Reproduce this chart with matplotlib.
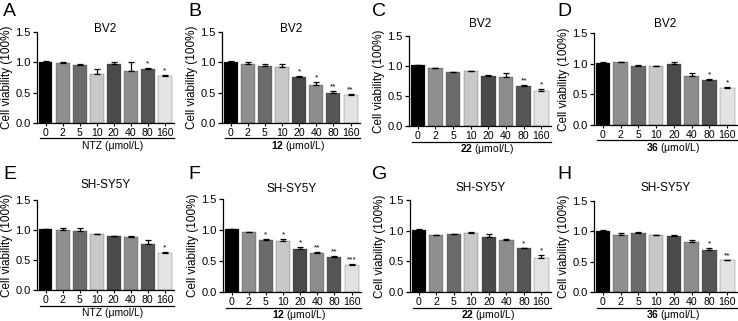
import matplotlib
matplotlib.use("Agg")
import matplotlib.pyplot as plt
import numpy as np

plt.rcParams['font.family'] = ['Liberation Sans', 'DejaVu Sans']
plt.rcParams['mathtext.fontset'] = 'custom'
plt.rcParams['mathtext.rm'] = 'Liberation Sans'
plt.rcParams['mathtext.bf'] = 'Liberation Sans:bold'

concs = ["0", "2", "5", "10", "20", "40", "80", "160"]
bar_colors = ["#000000", "#8f8f8f", "#6b6b6b", "#c8c8c8", "#4a4a4a", "#8c8c8c", "#555555", "#e3e3e3"]

letters = ["A", "B", "C", "D", "E", "F", "G", "H"]
titles = ["BV2"] * 4 + ["SH-SY5Y"] * 4
compounds = ["NTZ", "12", "22", "36", "NTZ", "12", "22", "36"]

vals_A = [1.01, 0.99, 0.95, 0.81, 0.97, 0.86, 0.89, 0.78]
err_A = [0.01, 0.01, 0.03, 0.08, 0.03, 0.15, 0.01, 0.01]
sig_A = ["", "", "", "", "", "", "*", "*"]

vals_B = [1.01, 0.97, 0.94, 0.93, 0.76, 0.63, 0.50, 0.46]
err_B = [0.01, 0.03, 0.04, 0.04, 0.01, 0.04, 0.03, 0.01]
sig_B = ["", "", "", "", "*", "*", "**", "**"]

vals_C = [1.01, 0.96, 0.90, 0.92, 0.84, 0.81, 0.67, 0.58]
err_C = [0.01, 0.01, 0.005, 0.005, 0.005, 0.08, 0.01, 0.03]
sig_C = ["", "", "", "", "", "", "**", "*"]

vals_D = [1.01, 1.03, 0.97, 0.96, 0.99, 0.80, 0.73, 0.60]
err_D = [0.01, 0.005, 0.01, 0.005, 0.03, 0.05, 0.02, 0.02]
sig_D = ["", "", "", "", "", "", "*", "*"]

vals_E = [1.01, 1.00, 0.99, 0.93, 0.90, 0.89, 0.77, 0.62]
err_E = [0.01, 0.04, 0.04, 0.005, 0.005, 0.005, 0.06, 0.02]
sig_E = ["", "", "", "", "", "", "", "*"]

vals_F = [1.01, 0.97, 0.84, 0.83, 0.69, 0.63, 0.57, 0.44]
err_F = [0.01, 0.005, 0.01, 0.02, 0.03, 0.01, 0.005, 0.01]
sig_F = ["", "", "*", "*", "*", "**", "**", "***"]

vals_G = [1.01, 0.93, 0.94, 0.97, 0.90, 0.84, 0.71, 0.56]
err_G = [0.01, 0.005, 0.005, 0.005, 0.04, 0.03, 0.01, 0.05]
sig_G = ["", "", "", "", "", "", "*", "*"]

vals_H = [1.01, 0.94, 0.98, 0.94, 0.92, 0.82, 0.70, 0.52]
err_H = [0.01, 0.04, 0.01, 0.005, 0.02, 0.04, 0.02, 0.005]
sig_H = ["", "", "", "", "", "", "*", "**"]

all_vals = [vals_A, vals_B, vals_C, vals_D, vals_E, vals_F, vals_G, vals_H]
all_errs = [err_A, err_B, err_C, err_D, err_E, err_F, err_G, err_H]
all_sigs = [sig_A, sig_B, sig_C, sig_D, sig_E, sig_F, sig_G, sig_H]

W, H = 738, 321
fig = plt.figure(figsize=(W / 100, H / 100), dpi=100)

# axes boxes in pixels: (left, top, right, bottom)
boxes = [
    (37, 32, 174, 123), (222, 32, 360, 123), (409, 36, 551, 126), (594, 33, 737, 125),
    (37, 200, 174, 290), (223, 199, 361, 292), (410, 200, 551, 292), (594, 201, 737, 292),
]
title_y = [29, 29, 24, 24, 185, 189, 188, 188]
letter_pos = [(3, 3), (188, 3), (372, 3), (557, 3), (3, 166), (188, 166), (372, 166), (557, 166)]

x = np.arange(len(concs))
for i in range(8):
    l, t, r, b = boxes[i]
    ax = fig.add_axes([l / W, 1 - b / H, (r - l) / W, (b - t) / H])
    vals, errs, sigs = all_vals[i], all_errs[i], all_sigs[i]
    ax.bar(x, vals, width=0.82, color=bar_colors, edgecolor="#333333", linewidth=0.2, zorder=2)
    ax.errorbar(x, vals, yerr=[np.zeros(len(errs)), errs], fmt="none", ecolor="black",
                elinewidth=0.9, capsize=2.5, capthick=0.9, zorder=3)
    for xi, v, e, s in zip(x, vals, errs, sigs):
        if s:
            ax.text(xi, v + e + 0.01, s, ha="center", va="bottom", fontsize=6, color="black")
    ax.set_xlim(-0.5, 7.55)
    ax.set_ylim(0, 1.5)
    ax.set_yticks([0, 0.5, 1.0, 1.5])
    ax.set_yticklabels(["0.0", "0.5", "1.0", "1.5"], fontsize=8)
    ax.set_xticks(x)
    ax.set_xticklabels(concs, fontsize=7.6)
    ax.tick_params(axis="x", length=2, width=0.8, pad=1.5)
    ax.tick_params(axis="y", length=3, width=0.9, pad=1.5)
    for sp in ["top", "right"]:
        ax.spines[sp].set_visible(False)
    for sp in ["left", "bottom"]:
        ax.spines[sp].set_linewidth(0.9)
    ax.set_ylabel("Cell viability (100%)", fontsize=8.5, labelpad=1.5)
    fig.text((l + r) / 2 / W, 1 - title_y[i] / H, titles[i], fontsize=8.5,
             ha="center", va="center")
    # underline under tick labels
    ax.plot([0.02, 1.0], [-15.5 / (b - t)] * 2, transform=ax.transAxes, color="black",
            linewidth=0.9, clip_on=False)
    comp = compounds[i]
    if comp == "NTZ":
        lab = "NTZ (μmol/L)"
    else:
        lab = r"$\mathbf{" + comp + r"}$" + " (μmol/L)"
    ax.text(0.55, -23 / (b - t), lab, transform=ax.transAxes, ha="center", va="center",
            fontsize=7.5)
    lx, ly = letter_pos[i]
    fig.text(lx / W, 1 - ly / H, letters[i], fontsize=14, ha="left", va="top")

fig.savefig("out.png", dpi=100)
